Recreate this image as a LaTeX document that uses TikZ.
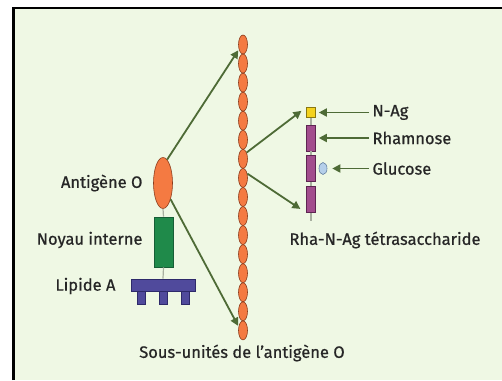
\documentclass[tikz,border=0pt]{standalone}
\usepackage{fontspec}
\setmainfont{Fira Sans}[FakeBold=0.7]
\usetikzlibrary{arrows.meta,shapes.geometric}

\definecolor{paper}{HTML}{EFF8E4}
\definecolor{ink}{HTML}{262626}
\definecolor{arrowgreen}{HTML}{4E6B36}
\definecolor{stemgrey}{HTML}{A8AFA0}
\definecolor{beadfill}{HTML}{F47A42}
\definecolor{beadline}{HTML}{8C3C1C}
\definecolor{corefill}{HTML}{1F8A4A}
\definecolor{coreline}{HTML}{165E36}
\definecolor{lipidfill}{HTML}{504A9C}
\definecolor{lipidline}{HTML}{2E2A6A}
\definecolor{rhafill}{HTML}{A24D8D}
\definecolor{rhaline}{HTML}{5E2552}
\definecolor{nagfill}{HTML}{F4D21E}
\definecolor{nagline}{HTML}{8A7810}
\definecolor{glcfill}{HTML}{B5CFEA}
\definecolor{glcline}{HTML}{6682A2}

\begin{document}
\begin{tikzpicture}[x=1pt,y=-1pt,font=\fontsize{16.5}{18}\selectfont,text=ink]
    \tikzstyle{arrow}=[draw=arrowgreen,line width=1.8pt,-{Triangle[length=8pt,width=8pt]},shorten >=1pt]
    \tikzstyle{stem}=[draw=stemgrey,line width=1.2pt]
    \tikzstyle{unit}=[inner sep=0pt,line width=0.6pt]
    \tikzstyle{bead}=[unit,ellipse,fill=beadfill,draw=beadline,minimum width=9pt,minimum height=19pt]
    \tikzstyle{antigen}=[bead,minimum width=19pt,minimum height=51pt]
    \tikzstyle{core}=[unit,rectangle,fill=corefill,draw=coreline,minimum width=19pt,minimum height=50pt]
    \tikzstyle{lipid}=[unit,rectangle,fill=lipidfill,draw=lipidline]
    \tikzstyle{rha}=[unit,rectangle,fill=rhafill,draw=rhaline,minimum width=9pt,minimum height=26pt]
    \tikzstyle{nag}=[unit,rectangle,fill=nagfill,draw=nagline,minimum width=9pt,minimum height=10pt]
    \tikzstyle{glc}=[unit,ellipse,fill=glcfill,draw=glcline,minimum width=8pt,minimum height=12pt]

    \useasboundingbox (0,0) rectangle (502,380);

    % Draw the frame
    \fill[paper] (13.5,8) rectangle (502,380);
    \draw[line width=2.8pt] (13.5,380) -- (13.5,8) -- (502,8);

    % Draw the chain of O-antigen subunits
    \foreach \i in {1,...,16}
        \node[bead] (B-\i) at (243,{44.5+19.06*(\i-1)}) {};

    % Draw the LPS molecule
    \node[antigen] (ag) at (163,183) {};
    \node[core] (core) at (163.5,242) {};
    \foreach \name / \x in {1/141,2/163,3/185}
        \node[lipid,minimum width=8pt,minimum height=13pt] (F-\name) at (\x,297.5) {};
    \node[lipid,minimum width=64pt,minimum height=12pt] (lip) at (163,285) {};
    \draw[stem] (ag.south) -- (core.north);
    \draw[stem] (core.south) -- (lip.north);

    % Draw the tetrasaccharide
    \node[nag] (nag) at (311,112.5) {};
    \node[rha] (R-1) at (311,138) {};
    \node[rha] (R-2) at (311,168.5) {};
    \node[rha] (R-3) at (311,199.5) {};
    \node[glc] (glc) at (323,168.5) {};
    \coordinate (tail) at (311,221);
    \draw[stem] (nag.south) -- (R-1.north);
    \draw[stem] (R-1.south) -- (R-2.north);
    \draw[stem] (R-2.south) -- (R-3.north);
    \draw[stem] (R-3.south) -- (tail);

    % Labels
    \node[anchor=east] (l-ag) at (146,183) {Antigène O};
    \node[anchor=east] (l-core) at (146,240) {Noyau interne};
    \node[anchor=east] (l-lip) at (119,286) {Lipide A};
    \node[anchor=west] (l-nag) at (369,112.5) {N-Ag};
    \node[anchor=west] (l-rha) at (369,138) {Rhamnose};
    \node[anchor=west] (l-glc) at (369,168.5) {Glucose};
    \node (l-tetra) at (385,240) {Rha-N-Ag tétrasaccharide};
    \node (l-chain) at (242,353) {Sous-unités de l’antigène O};

    % Connect the molecule to the chain, and the chain to one subunit
    \draw[arrow] (ag.80) -- (B-1.230);
    \draw[arrow] (ag.-65) -- (B-16.140);
    \draw[arrow,shorten >=6pt] (B-7.60) -- (nag.north west);
    \draw[arrow,shorten >=7pt] (B-8.45) -- (R-3.south west);

    % Point the sugar names at their residues
    \draw[arrow,shorten >=3pt] (l-nag.west) -- (nag.east);
    \draw[arrow,shorten >=3pt] (l-rha.west) -- (R-1.east);
    \draw[arrow,shorten >=5pt] (l-glc.west) -- (glc.east);
\end{tikzpicture}
\end{document}
